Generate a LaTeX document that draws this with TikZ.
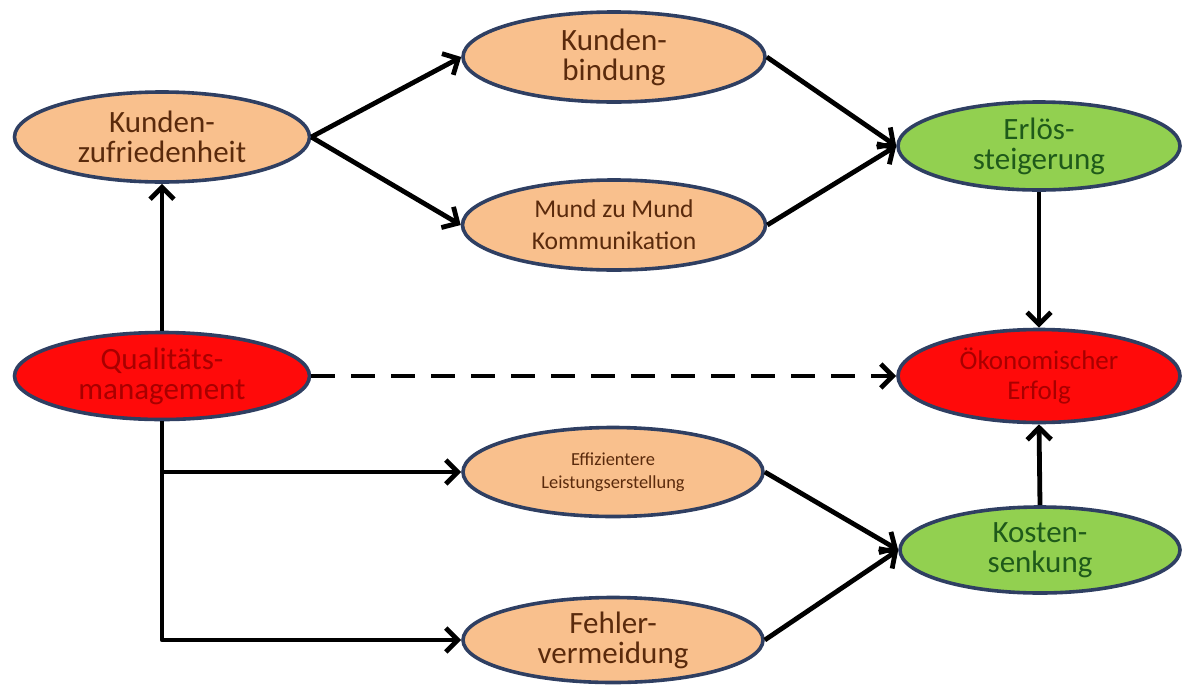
\documentclass[tikz,border=0pt]{standalone}
\usepackage{fontspec}
\setmainfont{Carlito}
\usetikzlibrary{shapes.geometric,arrows.meta}
\definecolor{peach}{HTML}{F9C08D}
\definecolor{lime}{HTML}{92D050}
\definecolor{signal}{HTML}{FF0A0A}
\definecolor{rim}{HTML}{2F3F62}
\definecolor{brownt}{HTML}{5A2A0C}
\definecolor{greent}{HTML}{1F5A1A}
\definecolor{redt}{HTML}{A80000}
\tikzset{
  blob/.style={ellipse, draw=rim, line width=1.8pt, inner sep=0pt, align=center,
    minimum width=150pt, minimum height=45pt},
  ora/.style={blob, fill=peach, text=brownt},
  grn/.style={blob, fill=lime, text=greent},
  rd/.style={blob, fill=signal, text=redt},
  big/.style={font=\fontsize{15.5}{15}\selectfont},
  mid/.style={font=\fontsize{12.8}{16}\selectfont},
  tiny/.style={font=\fontsize{9.2}{11.5}\selectfont},
  link/.style={draw=black, line width=2.4pt, line join=round,
    -{Straight Barb[length=6pt,width=12pt]}},
  hint/.style={link, dash pattern=on 12pt off 8pt},
}
\begin{document}
\begin{tikzpicture}[x=0.5pt, y=-0.5pt]
  \useasboundingbox (0,0) rectangle (1184,686);

  % left column
  \node[ora, big, minimum width=147.5pt, minimum height=45pt] (kz) at (162,137) {Kunden-\\zufriedenheit};
  \node[rd, big, minimum width=147.5pt, minimum height=43.5pt] (qm) at (162,376) {Qualitäts-\\management};

  % middle column
  \node[ora, big, minimum width=151pt, minimum height=45pt] (kb) at (614,57) {Kunden-\\bindung};
  \node[ora, mid, minimum width=151.5pt, minimum height=45pt] (mm) at (614,225) {Mund zu Mund\\Kommunikation};
  \node[ora, tiny, minimum width=150pt, minimum height=44.5pt] (ef) at (613,472) {Effizientere\\Leistungserstellung};
  \node[ora, big, minimum width=150pt, minimum height=42.5pt] (fe) at (613,640) {Fehler-\\vermeidung};

  % right column
  \node[grn, big, minimum width=141pt, minimum height=44pt] (er) at (1039,146) {Erlös-\\steigerung};
  \node[rd, font=\fontsize{13.5}{15}\selectfont, minimum width=141pt, minimum height=46.5pt] (oe) at (1039,376) {Ökonomischer\\Erfolg};
  \node[grn, big, minimum width=140pt, minimum height=43pt] (ks) at (1040,550) {Kosten-\\senkung};

  \draw[link] (kz.east) -- (kb.west);
  \draw[link] (kz.east) -- (mm.west);
  \draw[link] (kb.east) -- (er.west);
  \draw[link] (mm.east) -- (er.west);
  \draw[link] (er.south) -- (oe.north);
  \draw[link] (qm.north) -- (kz.south);
  \draw[hint] (qm.east) -- (oe.west);
  \draw[link] (qm.south) |- (fe.west);
  \draw[link] (qm.south |- ef.west) -- (ef.west);
  \draw[link] (ef.east) -- (ks.west);
  \draw[link] (fe.east) -- (ks.west);
  \draw[link] (ks.north) -- (oe.south);
\end{tikzpicture}
\end{document}
